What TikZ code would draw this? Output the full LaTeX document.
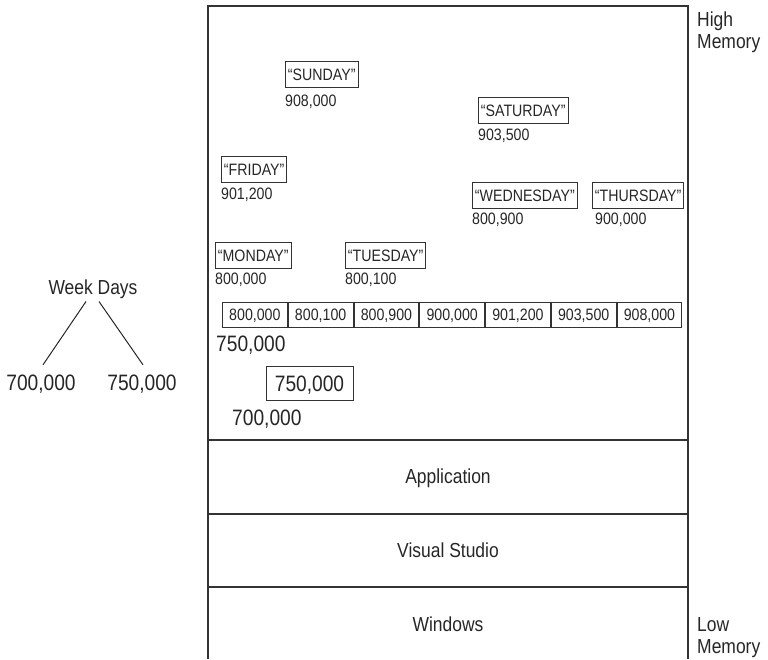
\documentclass[tikz,border=0pt]{standalone}
\usepackage{fontspec}
\setmainfont{Liberation Sans}[FakeStretch=0.86]
\begin{document}
\begin{tikzpicture}[x=1pt,y=-1pt,
  every node/.style={inner sep=0pt, text depth=0pt, text=black!85},
  small/.style={font=\fontsize{16.5}{19}\selectfont, text height=11.9pt},
  med/.style={font=\fontsize{20.3}{23}\selectfont, text height=14.6pt},
  big/.style={font=\fontsize{22.3}{25}\selectfont, text height=16pt},
  frame/.style={draw=black!80, line width=1.1pt},
  daybox/.style={small, draw=black!80, line width=0.9pt, minimum height=26pt, inner xsep=2.5pt},
  cell/.style={small, draw=black!80, line width=0.9pt, minimum width=64.86pt, minimum height=25pt},
  lbl/.style={small, anchor=west},
  link/.style={draw=black!85, line width=1pt}]
\useasboundingbox (0,0) rectangle (768,659);
% memory frame
\draw[frame] (208,659) -- (208,6) -- (688,6) -- (688,659);
\draw[frame] (208,440) -- (688,440);
\draw[frame] (208,514) -- (688,514);
\draw[frame] (208,587) -- (688,587);
\node[med] (app) at (448,476) {Application};
\node[med] (vs) at (448,550) {Visual Studio};
\node[med] (win) at (448,624) {Windows};
\node[med, anchor=west] (high1) at (697,19) {High};
\node[med, anchor=west] (high2) at (697,41) {Memory};
\node[med, anchor=west] (low1) at (697,624) {Low};
\node[med, anchor=west] (low2) at (697,646) {Memory};
% day strings
\node[daybox, anchor=north west] (sun) at (285,61) {“SUNDAY”};
\node[lbl] (sunv) at (285,101) {908,000};
\node[daybox, anchor=north west] (sat) at (478,97) {“SATURDAY”};
\node[lbl] (satv) at (478,135) {903,500};
\node[daybox, anchor=north west] (fri) at (221,156) {“FRIDAY”};
\node[lbl] (friv) at (221,194) {901,200};
\node[daybox, anchor=north west] (wed) at (472,182) {“WEDNESDAY”};
\node[lbl] (wedv) at (472,219) {800,900};
\node[daybox, anchor=north west] (thu) at (592,182) {“THURSDAY”};
\node[lbl] (thuv) at (595,219) {900,000};
\node[daybox, anchor=north west] (mon) at (215,242) {“MONDAY”};
\node[lbl] (monv) at (215,279) {800,000};
\node[daybox, anchor=north west] (tue) at (345,242) {“TUESDAY”};
\node[lbl] (tuev) at (345,279) {800,100};
% array of references
\node[cell, anchor=north west] (c1) at (222,302) {800,000};
\node[cell, anchor=west] (c2) at (c1.east) {800,100};
\node[cell, anchor=west] (c3) at (c2.east) {800,900};
\node[cell, anchor=west] (c4) at (c3.east) {900,000};
\node[cell, anchor=west] (c5) at (c4.east) {901,200};
\node[cell, anchor=west] (c6) at (c5.east) {903,500};
\node[cell, anchor=west] (c7) at (c6.east) {908,000};
\node[big, anchor=west] (arrv) at (216,343) {750,000};
\node[big, draw=black!80, line width=0.9pt, minimum width=87pt, minimum height=34pt] (ref) at (309.5,383.5) {750,000};
\node[big, anchor=west] (refv) at (232,417.5) {700,000};
% week days variable
\node[med] (wd) at (93,287) {Week Days};
\node[big] (l700) at (41,382) {700,000};
\node[big] (l750) at (142,382) {750,000};
\draw[link] ([xshift=-7pt,yshift=-7pt]wd.south) -- ([xshift=2pt,yshift=9pt]l700.north);
\draw[link] ([xshift=6pt,yshift=-7pt]wd.south) -- ([xshift=1pt,yshift=9pt]l750.north);
\end{tikzpicture}
\end{document}
